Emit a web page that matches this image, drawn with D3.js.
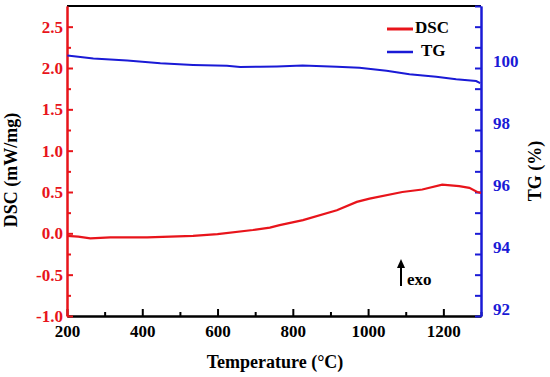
<!DOCTYPE html>
<html>
<head>
<meta charset="utf-8">
<script src="https://cdn.jsdelivr.net/npm/d3@7"></script>
<style>
  body { margin: 0; background: #fff; }
  text { font-family: "Liberation Serif", "Times New Roman", serif; font-weight: bold; }
</style>
</head>
<body>
<div id="chart"></div>
<script>
// DSC curve (temperature in C, mW/mg)
let dsc_temp = [200, 230, 262, 315, 413, 535, 600, 694, 739, 765, 827, 917, 970, 1004, 1091, 1144, 1197, 1242, 1269, 1290, 1300];
let dsc_val  = [-0.03, -0.04, -0.06, -0.05, -0.05, -0.03, -0.01, 0.04, 0.07, 0.10, 0.16, 0.28, 0.38, 0.42, 0.50, 0.53, 0.59, 0.57, 0.55, 0.50, 0.49];

// TG curve (temperature in C, %)
let tg_temp = [201, 270, 360, 448, 535, 625, 660, 713, 758, 826, 917, 977, 1049, 1110, 1181, 1234, 1287, 1298];
let tg_val  = [100.40, 100.31, 100.24, 100.15, 100.10, 100.07, 100.03, 100.04, 100.05, 100.08, 100.04, 100.01, 99.91, 99.80, 99.72, 99.64, 99.58, 99.51];

let x_ticks = [200, 400, 600, 800, 1000, 1200];
let x_minor = [300, 500, 700, 900, 1100, 1300];
let dsc_ticks = [-1.0, -0.5, 0.0, 0.5, 1.0, 1.5, 2.0, 2.5];
let dsc_minor = [-0.75, -0.25, 0.25, 0.75, 1.25, 1.75, 2.25];
let tg_ticks = [92, 94, 96, 98, 100];

let chart_w = 550, chart_h = 377;
let plot_left = 67, plot_right = 481, plot_top = 6, plot_bottom = 316;
let red = "#e8141b", blue = "#1a1ad6";

let svg = d3.select("#chart").append("svg")
    .attr("width", chart_w)
    .attr("height", chart_h);

let x = d3.scaleLinear().domain([200, 1300]).range([plot_left, plot_right]);
let y_dsc = d3.scaleLinear().domain([-1, 2.75]).range([plot_bottom, plot_top]);
let y_tg = d3.scaleLinear().domain([92, 102]).range([plot_bottom, plot_top]);

// right axis minor ticks every 2/3 %
let tg_minor = d3.range(0, 16).map(k => 92 + k * 2 / 3);

function style_axis(g, color, fsize) {
    g.select(".domain").attr("stroke", color).attr("stroke-width", 2);
    g.selectAll(".tick line").attr("stroke", color).attr("stroke-width", 2);
    g.selectAll(".tick text").attr("fill", color).style("font-size", fsize + "px")
        .style("font-family", '"Liberation Serif", "Times New Roman", serif').style("font-weight", "bold");
}

// top border
svg.append("line")
    .attr("x1", plot_left).attr("x2", plot_right)
    .attr("y1", plot_top).attr("y2", plot_top)
    .attr("stroke", "#000").attr("stroke-width", 2);

// bottom axis
let gx_minor = svg.append("g").attr("transform", "translate(0," + plot_bottom + ")")
    .call(d3.axisBottom(x).tickValues(x_minor).tickSizeInner(-4).tickSizeOuter(0).tickFormat(""));
style_axis(gx_minor, "#000", 17);
let gx = svg.append("g").attr("transform", "translate(0," + plot_bottom + ")")
    .call(d3.axisBottom(x).tickValues(x_ticks).tickSizeInner(-7).tickSizeOuter(0).tickPadding(9).tickFormat(d3.format("d")));
style_axis(gx, "#000", 17);

// right axis (TG)
let gr_minor = svg.append("g").attr("transform", "translate(" + plot_right + ",0)")
    .call(d3.axisRight(y_tg).tickValues(tg_minor).tickSizeInner(-6).tickSizeOuter(0).tickFormat(""));
style_axis(gr_minor, blue, 17);
let gr = svg.append("g").attr("transform", "translate(" + plot_right + ",0)")
    .call(d3.axisRight(y_tg).tickValues(tg_ticks).tickSizeInner(0).tickSizeOuter(0).tickPadding(12).tickFormat(d3.format("d")));
style_axis(gr, blue, 17);
gr.selectAll(".tick text").attr("y", -7);

// left axis (DSC)
let gl_minor = svg.append("g").attr("transform", "translate(" + plot_left + ",0)")
    .call(d3.axisLeft(y_dsc).tickValues(dsc_minor).tickSizeInner(-4).tickSizeOuter(0).tickFormat(""));
style_axis(gl_minor, red, 17);
let gl = svg.append("g").attr("transform", "translate(" + plot_left + ",0)")
    .call(d3.axisLeft(y_dsc).tickValues(dsc_ticks).tickSizeInner(-6).tickSizeOuter(0).tickPadding(4).tickFormat(d3.format(".1f")));
style_axis(gl, red, 17);
gl.selectAll(".tick text").text(d => d3.format(".1f")(d).replace("−", "-"));

// curves
let dsc_line = d3.line().x((d, i) => x(dsc_temp[i])).y(d => y_dsc(d));
let tg_line = d3.line().x((d, i) => x(tg_temp[i])).y(d => y_tg(d));

svg.append("path").datum(tg_val)
    .attr("d", tg_line)
    .attr("fill", "none").attr("stroke", blue).attr("stroke-width", 2);

svg.append("path").datum(dsc_val)
    .attr("d", dsc_line)
    .attr("fill", "none").attr("stroke", red).attr("stroke-width", 2.2);

// legend
let legend = svg.append("g");
legend.append("line").attr("x1", 387).attr("x2", 413).attr("y1", 29).attr("y2", 29)
    .attr("stroke", red).attr("stroke-width", 3);
legend.append("text").attr("x", 415).attr("y", 33).text("DSC").style("font-size", "17px");
legend.append("line").attr("x1", 387).attr("x2", 413).attr("y1", 52).attr("y2", 52)
    .attr("stroke", blue).attr("stroke-width", 2.5);
legend.append("text").attr("x", 421).attr("y", 56).text("TG").style("font-size", "17px");

// exo arrow
svg.append("line").attr("x1", 401).attr("x2", 401).attr("y1", 286).attr("y2", 266)
    .attr("stroke", "#000").attr("stroke-width", 2);
svg.append("path").attr("d", "M401,259 L397,268 L405,268 Z").attr("fill", "#000");
svg.append("text").attr("x", 407).attr("y", 285).text("exo").style("font-size", "17px");

// axis titles
svg.append("text")
    .attr("transform", "translate(17,170) rotate(-90)")
    .attr("text-anchor", "middle")
    .style("font-size", "18px")
    .text("DSC (mW/mg)");

svg.append("text")
    .attr("transform", "translate(541,171) rotate(-90)")
    .attr("text-anchor", "middle")
    .style("font-size", "18px")
    .text("TG (%)");

svg.append("text")
    .attr("x", 275).attr("y", 368)
    .attr("text-anchor", "middle")
    .style("font-size", "18px")
    .text("Temperature (°C)");
</script>
</body>
</html>
